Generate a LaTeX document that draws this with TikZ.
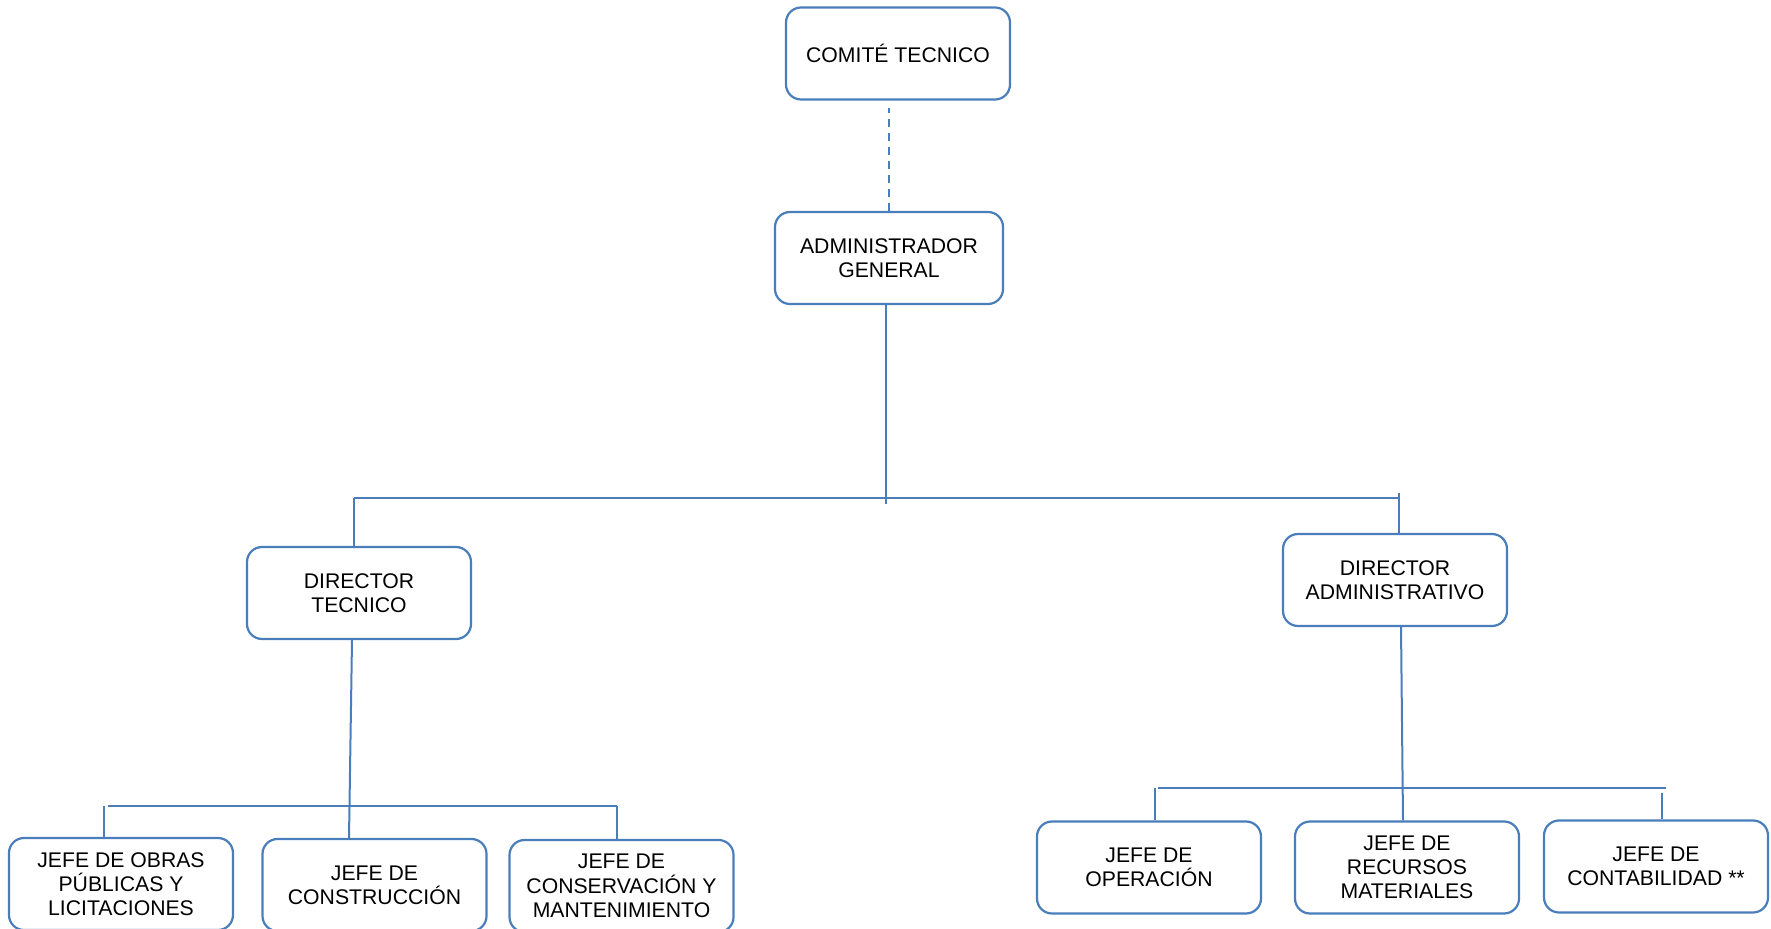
\documentclass[tikz,border=0pt]{standalone}
\usepackage{fontspec}
\setmainfont{Liberation Sans}
\usepackage{xcolor}
\usepackage{tikz}
\definecolor{orgblue}{HTML}{4A7EBB}

\begin{document}
\begin{tikzpicture}[
    x=0.5pt, y=-0.5pt,
    font=\fontsize{10.6}{12.1}\selectfont,
    box/.style={draw=orgblue, line width=1.1pt, rounded corners=7.5pt,
                fill=white, align=center, text=black,
                minimum width=112pt, minimum height=46pt, inner sep=2pt},
    link/.style={draw=orgblue, line width=1pt},
    weak/.style={link, dashed, dash pattern=on 4pt off 3pt},
  ]
  \useasboundingbox (0,0) rectangle (1771,929);
  \clip (0,0) rectangle (1771,929);

  %% ---- top ------------------------------------------------------------
  \node[box] (comite) at (898,53.5) {COMITÉ TECNICO};
  \node[box, minimum width=114pt] (admin) at (889,258)
    {ADMINISTRADOR\\ GENERAL};
  \draw[weak] (admin.north) -- ([yshift=-3.5pt]admin.north |- comite.south);

  %% ---- directors --------------------------------------------------------
  \node[box] (dtec) at (359,593) {DIRECTOR\\ TECNICO};
  \node[box] (dadm) at (1395,580) {DIRECTOR\\ ADMINISTRATIVO};

  \coordinate (busL) at (354,498);
  \coordinate (busR) at (1399,498);
  \coordinate (busM) at (886,504);
  \draw[link] (admin.south -| busM) -- (busM);
  \draw[link] (busL) -- (busR);
  \draw[link] (busL) -- (busL |- dtec.north);
  \draw[link] ([yshift=2.5pt]busR) -- (busR |- dadm.north);

  %% ---- jefes (technical) ------------------------------------------------
  \node[box] (jobras) at (121,884) {JEFE DE OBRAS\\ PÚBLICAS Y\\ LICITACIONES};
  \node[box] (jcons) at (374.5,885) {JEFE DE\\ CONSTRUCCIÓN};
  \node[box] (jconserv) at (621.5,886)
    {JEFE DE\\ CONSERVACIÓN Y\\ MANTENIMIENTO};

  \coordinate (tecL) at (104,806);
  \coordinate (tecM) at (349,806);
  \coordinate (tecR) at (617,806);
  \draw[link] ([xshift=2pt]tecL) -- (tecR);
  \draw[link] ([xshift=1.5pt]dtec.south -| tecM) -- (tecM |- jcons.north);
  \draw[link] (tecL) -- (tecL |- jobras.north);
  \draw[link] (tecR) -- (tecR |- jconserv.north);

  %% ---- jefes (administrative) -------------------------------------------
  \node[box] (joper) at (1149,867.5) {JEFE DE\\ OPERACIÓN};
  \node[box] (jrec) at (1407,867.5) {JEFE DE\\ RECURSOS\\ MATERIALES};
  \node[box] (jcont) at (1656,866.5) {JEFE DE\\ CONTABILIDAD **};

  \coordinate (admL) at (1155,788);
  \coordinate (admM) at (1403,788);
  \coordinate (admR) at (1666,788);
  \draw[link] ([xshift=1.5pt]admL) -- (admR);
  \draw[link] ([xshift=-1pt]dadm.south -| admM) -- (admM |- jrec.north);
  \draw[link] (admL) -- (admL |- joper.north);
  \draw[link] ([xshift=-2pt,yshift=-2.5pt]admR) -- ([xshift=-2pt]admR |- jcont.north);

\end{tikzpicture}
\end{document}
